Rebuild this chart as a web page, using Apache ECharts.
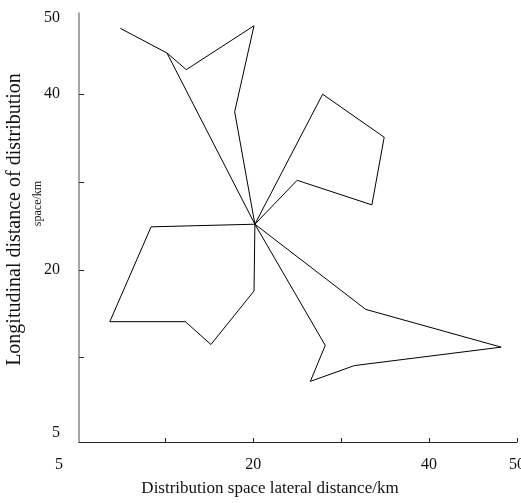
<!DOCTYPE html>
<html>
<head>
<meta charset="utf-8">
<script src="https://cdn.jsdelivr.net/npm/echarts@6/dist/echarts.min.js"></script>
<style>
html,body{margin:0;padding:0;background:#fff;}
#chart{width:521px;height:503px;}
</style>
</head>
<body>
<div id="chart"></div>
<script>
// Depot (centre) and the routes, in km [lateral, longitudinal]
const depot = [20.2, 25.2];
const route1 = [[20.2, 25.2], [17.9, 38.0], [20.1, 47.8], [12.4, 42.8], [10.2, 44.7], [4.9, 47.5]];
const route1Return = [[10.2, 44.7], [20.2, 25.2]];
const route2 = [[20.2, 25.2], [27.9, 40.0], [34.9, 35.1], [33.5, 27.4], [25.0, 30.2], [20.2, 25.2]];
const route3 = [[20.2, 25.2], [8.4, 24.9], [3.7, 14.1], [12.3, 14.1], [15.2, 11.5], [20.1, 17.6], [20.2, 25.2]];
const route4 = [[20.2, 25.2], [32.8, 15.5], [48.2, 11.2], [31.5, 9.1], [26.5, 7.3], [28.2, 11.4], [20.2, 25.2]];

// Axis ticks and labels
const xTicks = [10, 20, 30, 40, 50];
const yTicks = [10, 20, 30, 40];
const xLabelValues = [0.2, 20, 40, 50];
const xTickLabels = ['5', '20', '40', '50'];
const yLabelValues = [1.46, 20, 40, 48.68];
const yTickLabels = ['5', '20', '40', '50'];

const xName = 'Distribution space lateral distance/km';
const yNameLine1 = 'Longitudinal distance of distribution';
const yNameLine2 = 'space/km';

const FONT = 'Liberation Serif';
const chart = echarts.init(document.getElementById('chart'), null, {renderer: 'canvas'});

function routeSeries(r) {
  return {
    type: 'line',
    data: r,
    showSymbol: false,
    symbol: 'none',
    lineStyle: {color: '#000', width: 1},
    animation: false,
    silent: true
  };
}

chart.setOption({
  animation: false,
  grid: {left: 79, right: 4, top: 13, bottom: 61, containLabel: false, outerBoundsMode: 'none'},
  xAxis: {
    type: 'value', min: 0.2, max: 50,
    splitLine: {show: false},
    axisLine: {show: true, onZero: false, lineStyle: {color: '#222', width: 1}},
    axisTick: {show: true, inside: true, length: 4, customValues: xTicks, lineStyle: {color: '#222'}},
    axisLabel: {
      customValues: xLabelValues, margin: 15, color: '#111', fontFamily: FONT, fontSize: 16,
      hideOverlap: false,
      formatter: function (v) {
        const i = xLabelValues.indexOf(v);
        if (i === 0) return '{o|' + xTickLabels[0] + '}';
        return i >= 0 ? xTickLabels[i] : '';
      },
      rich: {o: {padding: [0, 40, 0, 0], color: '#111', fontFamily: FONT, fontSize: 16}}
    },
    name: xName, nameLocation: 'middle', nameGap: 38, nameMoveOverlap: false,
    nameTextStyle: {color: '#111', fontFamily: FONT, fontSize: 17, padding: [0, 56, 0, 0]}
  },
  yAxis: {
    type: 'value', min: 0.4, max: 49.25,
    splitLine: {show: false},
    axisLine: {show: true, onZero: false, lineStyle: {color: '#888', width: 1.5}},
    axisTick: {show: true, inside: true, length: 5, customValues: yTicks, lineStyle: {color: '#333'}},
    axisLabel: {
      customValues: yLabelValues, margin: 19, color: '#111', fontFamily: FONT, fontSize: 16,
      formatter: function (v) {
        const i = yLabelValues.indexOf(v);
        return i >= 0 ? yTickLabels[i] : '';
      }
    },
    name: '{a|' + yNameLine1 + '}\n{b|' + yNameLine2 + '}',
    nameLocation: 'middle', nameGap: 31, nameRotate: 90, nameMoveOverlap: false,
    nameTextStyle: {
      color: '#111', fontFamily: FONT, fontSize: 17, align: 'center', padding: [0, 0, 0, 16],
      rich: {
        a: {fontFamily: FONT, fontSize: 20, lineHeight: 24, color: '#111'},
        b: {fontFamily: FONT, fontSize: 12, lineHeight: 21, color: '#111', padding: [0, 0, 0, 32]}
      }
    }
  },
  series: [routeSeries(route1), routeSeries(route1Return), routeSeries(route2), routeSeries(route3), routeSeries(route4)]
});
</script>
</body>
</html>
